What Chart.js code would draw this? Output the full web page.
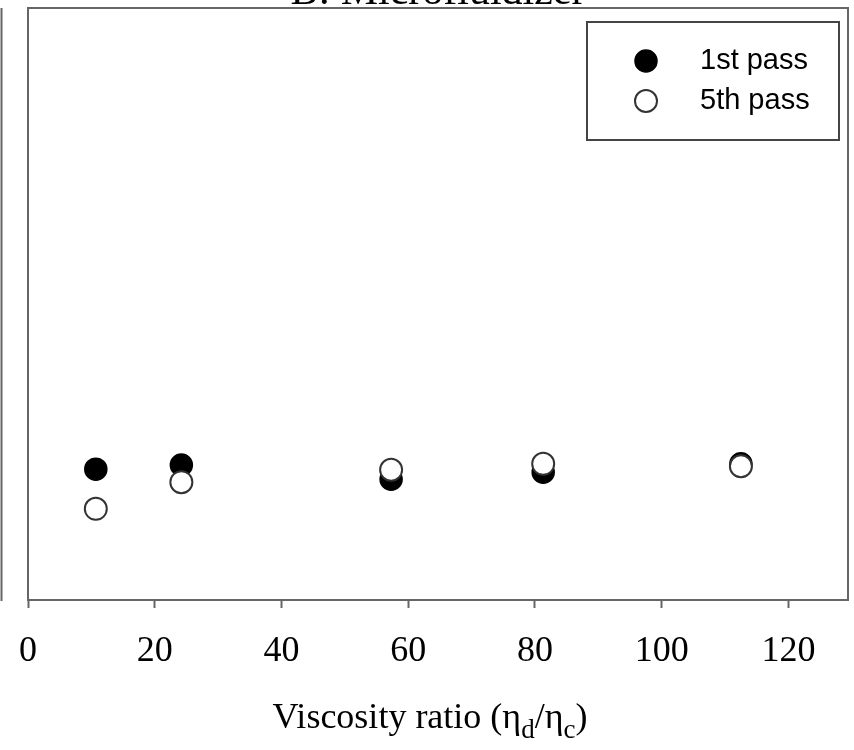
<!DOCTYPE html>
<html>
<head>
<meta charset="utf-8">
<script src="https://cdn.jsdelivr.net/npm/chart.js@4"></script>
<style>
  html, body { margin: 0; padding: 0; background: #fff; }
  #wrap { width: 854px; height: 750px; position: relative; }
</style>
</head>
<body>
<div id="wrap"><canvas id="myChart" width="854" height="750"></canvas></div>
<script>
// values
const viscosityRatio = [10.7, 24.2, 57.3, 81.3, 112.5];
const firstPass = [22.1, 22.8, 20.4, 21.6, 23.0];
const fifthPass = [15.4, 19.9, 22.0, 23.0, 22.6];
const xTicks = [0, 20, 40, 60, 80, 100, 120];
const seriesLabels = ['1st pass', '5th pass'];
const panelTitle = 'B: Microfluidizer';

const lineGray = '#666';

function toPoints(xs, ys) {
    return xs.map((x, i) => ({ x: x, y: ys[i] }));
}

// frame, title, axis title and legend
const decorations = {
    id: 'decorations',
    afterDraw(chart) {
        const ctx = chart.ctx;
        const area = chart.chartArea;
        ctx.save();

        // right border of the neighbouring panel
        ctx.strokeStyle = lineGray;
        ctx.lineWidth = 2;
        ctx.beginPath();
        ctx.moveTo(1.5, area.top);
        ctx.lineTo(1.5, area.bottom + 1);
        ctx.stroke();

        // frame
        ctx.strokeRect(area.left, area.top, area.right - area.left, area.bottom - area.top);

        // panel title, mostly cut off at the top
        ctx.fillStyle = '#000';
        ctx.font = '42px "Liberation Serif"';
        ctx.textAlign = 'center';
        ctx.textBaseline = 'alphabetic';
        ctx.fillText(panelTitle, (area.left + area.right) / 2, 4);

        // x axis title with subscripts
        const big = '36px "Liberation Serif"';
        const small = '27px "Liberation Serif"';
        const parts = [
            { t: 'Viscosity ratio (\u03b7', f: big, dy: 0 },
            { t: 'd', f: small, dy: 10 },
            { t: '/\u03b7', f: big, dy: 0 },
            { t: 'c', f: small, dy: 10 },
            { t: ')', f: big, dy: 0 }
        ];
        let total = 0;
        parts.forEach(p => { ctx.font = p.f; p.w = ctx.measureText(p.t).width; total += p.w; });
        let x = 430 - total / 2;
        const baseY = 728;
        ctx.textAlign = 'left';
        parts.forEach(p => {
            ctx.font = p.f;
            ctx.fillText(p.t, x, baseY + p.dy);
            x += p.w;
        });

        // legend
        const boxL = area.right - 261, boxT = area.top + 14, boxW = 252, boxH = 118;
        ctx.strokeStyle = '#444';
        ctx.lineWidth = 2;
        ctx.strokeRect(boxL, boxT, boxW, boxH);
        ctx.font = '29px "Liberation Sans"';
        ctx.textBaseline = 'middle';
        chart.data.datasets.forEach((ds, i) => {
            const cy = boxT + 39 + i * 40;
            ctx.beginPath();
            ctx.arc(boxL + 59, cy, 11, 0, Math.PI * 2);
            ctx.fillStyle = ds.backgroundColor;
            ctx.fill();
            ctx.lineWidth = ds.borderWidth;
            ctx.strokeStyle = ds.borderColor;
            ctx.stroke();
            ctx.fillStyle = '#000';
            ctx.fillText(ds.label, boxL + 113, cy);
        });
        ctx.restore();
    }
};

const config = {
    type: 'scatter',
    data: {
        datasets: [
            {
                label: seriesLabels[0],
                data: toPoints(viscosityRatio, firstPass),
                backgroundColor: '#000',
                borderColor: '#000',
                borderWidth: 1.5,
                pointRadius: 11,
                order: 1
            },
            {
                label: seriesLabels[1],
                data: toPoints(viscosityRatio, fifthPass),
                backgroundColor: '#fff',
                borderColor: '#333',
                borderWidth: 2,
                pointRadius: 11,
                order: 0
            }
        ]
    },
    options: {
        responsive: false,
        animation: false,
        layout: { autoPadding: false, padding: { left: 28, right: 6, top: 8, bottom: 0 } },
        plugins: {
            legend: { display: false },
            tooltip: { enabled: false }
        },
        scales: {
            x: {
                type: 'linear',
                min: 0,
                max: 129.4,
                afterBuildTicks: scale => { scale.ticks = xTicks.map(v => ({ value: v })); },
                afterFit: scale => {
                    scale.height = 150;
                    scale.paddingLeft = 0;
                    scale.paddingRight = 0;
                },
                grid: {
                    drawOnChartArea: false,
                    drawTicks: true,
                    tickLength: 8,
                    tickWidth: 2,
                    tickColor: lineGray
                },
                border: { color: lineGray, width: 2 },
                ticks: {
                    color: '#000',
                    padding: 22,
                    maxRotation: 0,
                    font: { family: 'Liberation Serif', size: 36 }
                }
            },
            y: {
                display: false,
                min: 0,
                max: 100
            }
        }
    },
    plugins: [decorations]
};

new Chart(document.getElementById('myChart').getContext('2d'), config);
</script>
</body>
</html>
